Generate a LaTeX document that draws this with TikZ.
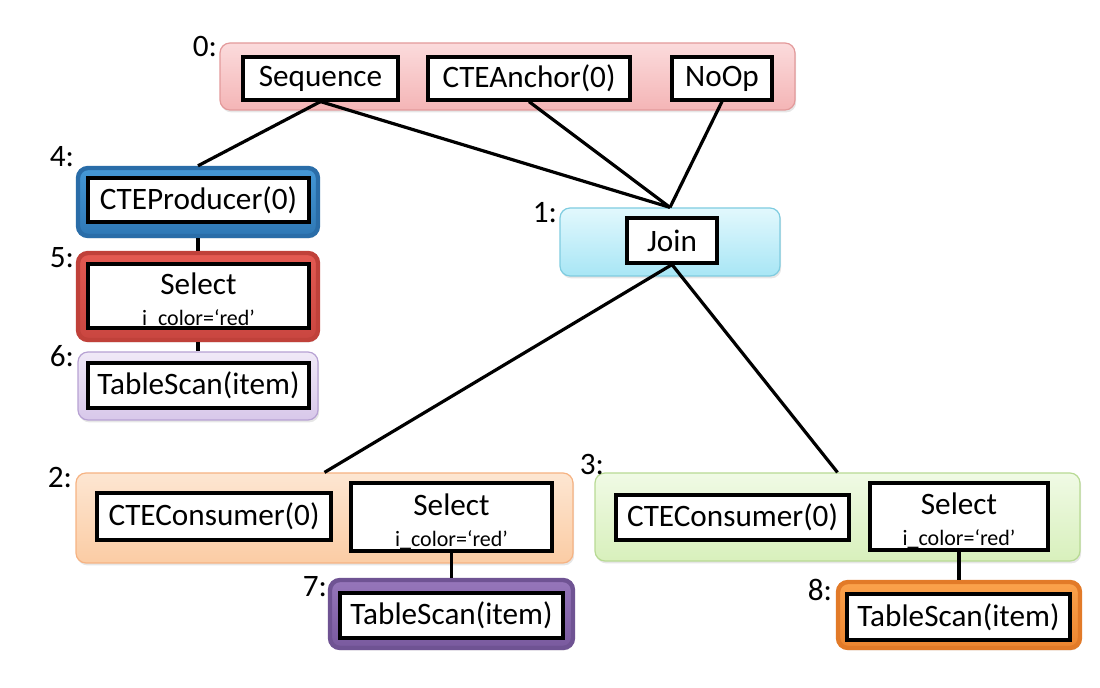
\documentclass[tikz,border=0pt]{standalone}
\usepackage{fontspec}
\setmainfont{Carlito}
\usetikzlibrary{shadows}
\definecolor{PinkClr}{HTML}{F4B5B6}
\definecolor{PinkTopClr}{HTML}{FBDBDC}
\definecolor{PinkLineClr}{HTML}{E39A9B}
\definecolor{CyanClr}{HTML}{A8E6F5}
\definecolor{CyanTopClr}{HTML}{E2F8FD}
\definecolor{CyanLineClr}{HTML}{7FCCE0}
\definecolor{LilacClr}{HTML}{D8C8EA}
\definecolor{LilacTopClr}{HTML}{F0E9F7}
\definecolor{LilacLineClr}{HTML}{B7A2D3}
\definecolor{PeachClr}{HTML}{FBCCA4}
\definecolor{PeachTopClr}{HTML}{FDE6D2}
\definecolor{PeachLineClr}{HTML}{F6B383}
\definecolor{GreenClr}{HTML}{D8F0BC}
\definecolor{GreenTopClr}{HTML}{F0FAE5}
\definecolor{GreenLineClr}{HTML}{B8DA94}
\definecolor{BlueClr}{HTML}{2F78B5}
\definecolor{BlueTopClr}{HTML}{4598D6}
\definecolor{BlueLineClr}{HTML}{2A6DA8}
\definecolor{RedClr}{HTML}{C94640}
\definecolor{RedTopClr}{HTML}{E45A52}
\definecolor{RedLineClr}{HTML}{C0413A}
\definecolor{PurpleClr}{HTML}{795A9E}
\definecolor{PurpleTopClr}{HTML}{9676BA}
\definecolor{PurpleLineClr}{HTML}{6F5393}
\definecolor{OrangeClr}{HTML}{EC8530}
\definecolor{OrangeTopClr}{HTML}{FBA24C}
\definecolor{OrangeLineClr}{HTML}{E27A28}
\newcommand\SelText{\rule{0pt}{15pt}Select\\[-1.5pt]{\fontsize{11}{12}\selectfont i\_color=‘red’}}

\begin{document}
\begin{tikzpicture}[x=0.5pt,y=-0.5pt,
  font=\fontsize{15.6}{17}\selectfont,
  GroupBox/.style={rounded corners=5pt,line width=0.6pt,
    drop shadow={opacity=0.2,shadow xshift=0.6pt,shadow yshift=-1.2pt},
    top color=#1TopClr,bottom color=#1Clr,draw=#1LineClr},
  HotBox/.style={GroupBox=#1,line width=2.2pt},
  OpBox/.style={draw,line width=1.6pt,fill=white,inner sep=0pt,align=center},
  Edge/.style={line width=1.6pt},
  Num/.style={inner sep=0pt}]
\useasboundingbox (0,0) rectangle (1100,688);

% groups
\node[GroupBox=Pink,minimum width=287.5pt,minimum height=33.5pt] (g0) at (507.5,76.5) {};
\node[HotBox=Blue,minimum width=120pt,minimum height=34pt] (g4) at (198,202) {};
\node[HotBox=Red,minimum width=120pt,minimum height=43.5pt] (g5) at (198,296.5) {};
\node[GroupBox=Lilac,minimum width=120pt,minimum height=34pt] (g6) at (198,386) {};
\node[GroupBox=Cyan,minimum width=110pt,minimum height=34pt] (g1) at (670,242) {};
\node[GroupBox=Peach,minimum width=248.5pt,minimum height=45pt] (g2) at (324.5,518) {};
\node[HotBox=Purple,minimum width=121.5pt,minimum height=34pt] (g7) at (451.5,614) {};
\node[GroupBox=Green,minimum width=242.5pt,minimum height=44pt] (g3) at (837.5,517) {};
\node[HotBox=Orange,minimum width=121pt,minimum height=33pt] (g8) at (959,615) {};

% group numbers
\node[Num] (n0) at (205,47) {0:};
\node[Num] (n4) at (62,157) {4:};
\node[Num] (n5) at (62,258) {5:};
\node[Num] (n6) at (62,356) {6:};
\node[Num] (n1) at (545,213) {1:};
\node[Num] (n2) at (60,478) {2:};
\node[Num] (n7) at (315,587) {7:};
\node[Num] (n3) at (592,465) {3:};
\node[Num] (n8) at (820,590) {8:};

% operators
\node[OpBox,minimum width=77.5pt,minimum height=21.5pt] (seq) at (320.5,78.5) {Sequence};
\node[OpBox,minimum width=101pt,minimum height=21.5pt] (anchor) at (529,78.5) {CTEAnchor(0)};
\node[OpBox,minimum width=50pt,minimum height=21.5pt] (noop) at (722,78.5) {NoOp};
\node[OpBox,minimum width=110.5pt,minimum height=22pt] (prod) at (198.5,200) {CTEProducer(0)};
\node[OpBox,minimum width=110.5pt,minimum height=32pt] (selA) at (198.5,296) {\SelText};
\node[OpBox,minimum width=110.5pt,minimum height=22.5pt] (scanA) at (198.5,385.5) {TableScan(item)};
\node[OpBox,minimum width=45pt,minimum height=22.5pt] (join) at (672,240.5) {Join};
\node[OpBox,minimum width=117pt,minimum height=23.5pt] (consA) at (214,516.5) {CTEConsumer(0)};
\node[OpBox,minimum width=100.5pt,minimum height=34pt] (selB) at (451.5,517) {\SelText};
\node[OpBox,minimum width=111.5pt,minimum height=22.5pt] (scanB) at (451.5,615.5) {TableScan(item)};
\node[OpBox,minimum width=116.5pt,minimum height=22.5pt] (consB) at (732.5,517.5) {CTEConsumer(0)};
\node[OpBox,minimum width=89pt,minimum height=33.5pt] (selC) at (959,516.5) {\SelText};
\node[OpBox,minimum width=111.5pt,minimum height=23pt] (scanC) at (958.5,617) {TableScan(item)};

% edges
\draw[Edge] (seq.south) -- (g4.north);
\draw[Edge] (seq.south) -- (g1.north);
\draw[Edge] (anchor.south) -- (g1.north);
\draw[Edge] (noop.south) -- (g1.north);
\draw[Edge] (g4.south) -- (g5.north);
\draw[Edge] (g5.south) -- (g6.north);
\draw[Edge] (join.south) -- (g2.north);
\draw[Edge] (join.south) -- (g3.north);
\draw[Edge] (selB.south) -- (g7.north);
\draw[Edge] (selC.south) -- (g8.north);

\end{tikzpicture}
\end{document}
